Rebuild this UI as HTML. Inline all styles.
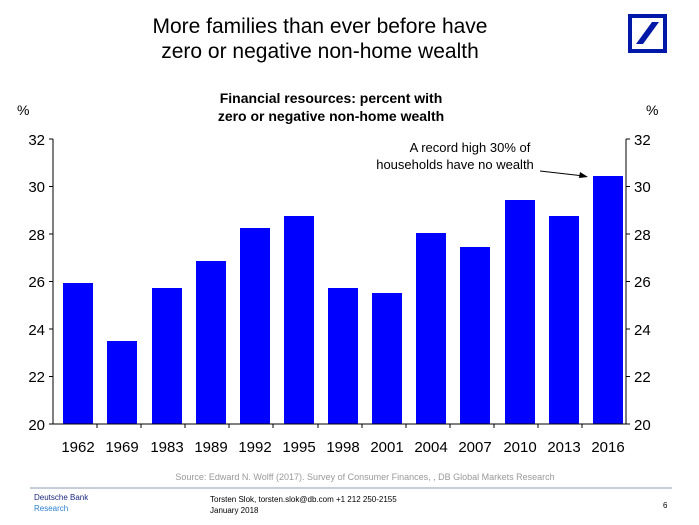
<!DOCTYPE html>
<html><head><meta charset="utf-8"><style>
body{margin:0;width:699px;height:520px;background:#fff;overflow:hidden;font-family:"Liberation Sans",sans-serif}
</style></head><body>
<svg width="699" height="520" xmlns="http://www.w3.org/2000/svg" font-family="Liberation Sans, sans-serif">
<text x="320" y="33" font-size="21" text-anchor="middle">More families than ever before have</text>
<text x="320" y="58" font-size="21" text-anchor="middle">zero or negative non-home wealth</text>
<rect x="630" y="16" width="35" height="35" fill="none" stroke="#0018a8" stroke-width="4"/>
<polygon points="636,44 643,44 659,22 652,22" fill="#0018a8"/>
<text x="331" y="103" font-size="14" font-weight="bold" text-anchor="middle">Financial resources: percent with</text>
<text x="331" y="121" font-size="14" font-weight="bold" text-anchor="middle">zero or negative non-home wealth</text>
<text x="17" y="115" font-size="14">%</text>
<text x="646" y="115" font-size="14">%</text>
<g fill="#0000ff">
<rect x="63" y="283" width="30" height="141"/>
<rect x="107" y="341" width="30" height="83"/>
<rect x="152" y="288" width="30" height="136"/>
<rect x="196" y="261" width="30" height="163"/>
<rect x="240" y="228" width="30" height="196"/>
<rect x="284" y="216" width="30" height="208"/>
<rect x="328" y="288" width="30" height="136"/>
<rect x="372" y="293" width="30" height="131"/>
<rect x="416" y="233" width="30" height="191"/>
<rect x="460" y="247" width="30" height="177"/>
<rect x="505" y="200" width="30" height="224"/>
<rect x="549" y="216" width="30" height="208"/>
<rect x="593" y="176" width="30" height="248"/>
</g>
<g stroke="#000" stroke-width="1">
<line x1="53" y1="139" x2="53" y2="424"/>
<line x1="626" y1="139" x2="626" y2="424"/>
<line x1="53" y1="424" x2="626" y2="424"/>
<line x1="49" y1="139" x2="53" y2="139"/><line x1="49" y1="186.5" x2="53" y2="186.5"/><line x1="49" y1="234" x2="53" y2="234"/><line x1="49" y1="281.5" x2="53" y2="281.5"/><line x1="49" y1="329" x2="53" y2="329"/><line x1="49" y1="376.5" x2="53" y2="376.5"/><line x1="49" y1="424" x2="53" y2="424"/>
<line x1="626" y1="139" x2="630" y2="139"/><line x1="626" y1="186.5" x2="630" y2="186.5"/><line x1="626" y1="234" x2="630" y2="234"/><line x1="626" y1="281.5" x2="630" y2="281.5"/><line x1="626" y1="329" x2="630" y2="329"/><line x1="626" y1="376.5" x2="630" y2="376.5"/><line x1="626" y1="424" x2="630" y2="424"/>
<line x1="97" y1="424" x2="97" y2="428"/><line x1="141" y1="424" x2="141" y2="428"/><line x1="185" y1="424" x2="185" y2="428"/><line x1="229" y1="424" x2="229" y2="428"/><line x1="273" y1="424" x2="273" y2="428"/><line x1="318" y1="424" x2="318" y2="428"/><line x1="362" y1="424" x2="362" y2="428"/><line x1="406" y1="424" x2="406" y2="428"/><line x1="450" y1="424" x2="450" y2="428"/><line x1="494" y1="424" x2="494" y2="428"/><line x1="538" y1="424" x2="538" y2="428"/><line x1="582" y1="424" x2="582" y2="428"/>
<line x1="540" y1="171" x2="584" y2="176"/>
</g>
<polygon points="588,177 580,172 579,178" fill="#000"/>
<g font-size="15" text-anchor="end">
<text x="45" y="145">32</text><text x="45" y="192">30</text><text x="45" y="240">28</text><text x="45" y="287">26</text><text x="45" y="335">24</text><text x="45" y="382">22</text><text x="45" y="430">20</text>
</g>
<g font-size="15">
<text x="634" y="145">32</text><text x="634" y="192">30</text><text x="634" y="240">28</text><text x="634" y="287">26</text><text x="634" y="335">24</text><text x="634" y="382">22</text><text x="634" y="430">20</text>
</g>
<g font-size="15" text-anchor="middle">
<text x="78" y="452">1962</text><text x="122" y="452">1969</text><text x="167" y="452">1983</text><text x="211" y="452">1989</text><text x="255" y="452">1992</text><text x="299" y="452">1995</text><text x="343" y="452">1998</text><text x="387" y="452">2001</text><text x="431" y="452">2004</text><text x="475" y="452">2007</text><text x="520" y="452">2010</text><text x="564" y="452">2013</text><text x="608" y="452">2016</text>
</g>
<text x="470" y="152" font-size="13" text-anchor="middle">A record high 30% of</text>
<text x="455" y="169" font-size="13" text-anchor="middle">households have no wealth</text>
<text x="365" y="480" font-size="9" fill="#999" text-anchor="middle">Source: Edward N. Wolff (2017). Survey of Consumer Finances, , DB Global Markets Research</text>
<line x1="30" y1="488" x2="672" y2="488" stroke="#8a9bb0" stroke-width="1"/>
<text x="34" y="500" font-size="8" fill="#1a2a80">Deutsche Bank</text>
<text x="34" y="511" font-size="8" fill="#2b7fd0">Research</text>
<text x="210" y="502" font-size="8">Torsten Slok, torsten.slok@db.com  +1 212 250-2155</text>
<text x="210" y="513" font-size="8">January 2018</text>
<text x="663" y="508" font-size="8">6</text>
</svg>
</body></html>
